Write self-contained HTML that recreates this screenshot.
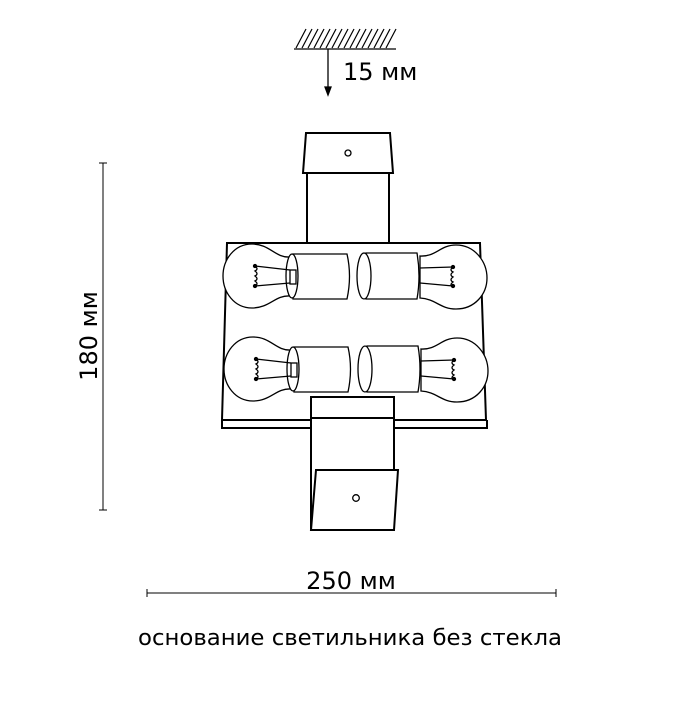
<!DOCTYPE html>
<html><head><style>body{margin:0;background:#fff}</style></head><body>
<svg width="700" height="700" viewBox="0 0 700 700" xmlns="http://www.w3.org/2000/svg" font-family="'DejaVu Sans','Liberation Sans',sans-serif">
<g stroke="#000" fill="none" stroke-width="1.3">
<line x1="294" y1="49" x2="396" y2="49"/>
<g stroke-width="1.2">
<path d="M296 48l10-19M302 48l10-19M308 48l10-19M314 48l10-19M320 48l10-19M326 48l10-19M332 48l10-19M338 48l10-19M344 48l10-19M350 48l10-19M356 48l10-19M362 48l10-19M368 48l10-19M374 48l10-19M380 48l10-19M386 48l10-19"/>
</g>
<line x1="328" y1="49" x2="328" y2="90"/>
<path d="M325 87l3 8 3-8z" fill="#000"/>
<g stroke-width="2">
<path d="M306 133H390L393 173H303Z"/>
<path d="M307 173V243M389 173V243"/>
<path d="M227 243H480L486 420H222Z"/>
<path d="M222 420V428H487V420"/>
<rect x="311" y="397" width="83" height="133" fill="#fff"/>
<line x1="311" y1="418" x2="394" y2="418"/>
<path d="M316 470H398L394 530H311Z" fill="#fff"/>
</g>
<circle cx="348" cy="153" r="3"/>
<circle cx="356" cy="498" r="3.3"/>
</g>
<g stroke="#000" fill="#fff" stroke-width="1.3">
<g id="row">
<path d="M290 257C275 258 270 244 252 244C234 244 223 260 223 276C223 292 234 308 252 308C270 308 275 295 290 296Z"/>
<path d="M420 256C436 257 440 245 456 245C475 245 487 262 487 278C487 294 475 309 456 309C440 309 436 299 420 298Z"/>
<path d="M293 254H347Q352 276 347 299H293Z"/>
<ellipse cx="292" cy="276" rx="6" ry="22"/>
<rect x="290" y="270" width="6" height="14"/>
<path d="M366 253H417Q421 276 417 299H366Z"/>
<ellipse cx="364" cy="276" rx="7" ry="23"/>
<path d="M255 266L290 270M255 286L290 283M453 267L420 268M453 286L420 283" fill="none"/>
<path d="M255 266q4 3 0 5q4 3 0 5q4 3 0 5q4 3 0 5M453 267q-4 3 0 5q-4 3 0 5q-4 3 0 5q-4 3 0 5" fill="none"/>
<circle cx="255" cy="266" r="1.5" fill="#000"/><circle cx="255" cy="286" r="1.5" fill="#000"/>
<circle cx="453" cy="267" r="1.5" fill="#000"/><circle cx="453" cy="286" r="1.5" fill="#000"/>
</g>
<use href="#row" transform="translate(1,93)"/>
</g>
<g stroke="#000" stroke-width="1">
<line x1="103" y1="163" x2="103" y2="510"/>
<line x1="99" y1="163" x2="107" y2="163"/><line x1="99" y1="510" x2="107" y2="510"/>
<line x1="147" y1="593" x2="556" y2="593"/>
<line x1="147" y1="589" x2="147" y2="597"/><line x1="556" y1="589" x2="556" y2="597"/>
</g>
<g font-size="24" fill="#000">
<text x="343" y="80">15 мм</text>
<text x="351" y="589" text-anchor="middle">250 мм</text>
<text transform="translate(97,336) rotate(-90)" text-anchor="middle">180 мм</text>
<text x="138" y="645" font-size="22" textLength="424" lengthAdjust="spacingAndGlyphs">основание светильника без стекла</text>
</g>
</svg>
</body></html>
